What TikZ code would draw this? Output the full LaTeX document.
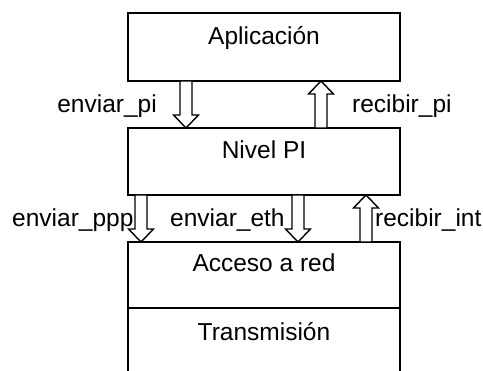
\documentclass[tikz,border=0pt]{standalone}
\usepackage{fontspec}
\setmainfont{Liberation Sans}
\usetikzlibrary{calc}
\tikzset{
  layer/.style={draw, line width=1.4pt, minimum width=272pt, inner sep=0pt, outer sep=0pt},
  side/.style={line width=1.4pt},
  txt/.style={anchor=base, inner sep=0pt, font=\fontsize{24.5}{28}\selectfont},
  blk/.style={draw, line width=1.4pt, fill=white, line join=miter},
}
% hollow arrow pointing down: x, from, to
\newcommand\hdown[3]{%
  \draw[blk] let \p1=(#2), \p2=(#3) in
    (#1pt-6pt,\y1) -- (#1pt+6pt,\y1) -- (#1pt+6pt,\y2+13pt) -- (#1pt+12.5pt,\y2+13pt)
    -- (#1pt,\y2) -- (#1pt-12.5pt,\y2+13pt) -- (#1pt-6pt,\y2+13pt) -- cycle;}
% hollow arrow pointing up: x, from, to
\newcommand\hup[3]{%
  \draw[blk] let \p1=(#2), \p2=(#3) in
    (#1pt-6pt,\y1) -- (#1pt+6pt,\y1) -- (#1pt+6pt,\y2-13pt) -- (#1pt+12.5pt,\y2-13pt)
    -- (#1pt,\y2) -- (#1pt-12.5pt,\y2-13pt) -- (#1pt-6pt,\y2-13pt) -- cycle;}
\begin{document}
\begin{tikzpicture}[x=1pt, y=-1pt]
\useasboundingbox (0,0) rectangle (483,371);
% boxes
\node[layer, minimum height=68pt] (app) at (264,47) {};
\node[layer, minimum height=67pt] (ip)  at (264,161.5) {};
\node[layer, minimum height=66pt] (acc) at (264,275) {};
\coordinate (tl) at (128,380);
\coordinate (tr) at (400,380);
\draw[side] (tl) -- (acc.south west) -- (acc.south east) -- (tr);
% box texts
\node[txt] (tapp) at (264,45) {Aplicación};
\node[txt] (tip) at (264,159) {Nivel PI};
\node[txt] (tacc) at (264,272) {Acceso a red};
\node[txt] (ttr) at (264,341) {Transmisión};
% arrows
\hdown{186}{app.south}{ip.north}
\hup{321}{ip.north}{app.south}
\hdown{141}{ip.south}{acc.north}
\hdown{298}{ip.south}{acc.north}
\hup{366}{acc.north}{ip.south}
% labels
\node[txt, anchor=base east] (l1) at (157,113) {enviar\_pi};
\node[txt, anchor=base west] (l2) at (352,113) {recibir\_pi};
\node[txt, anchor=base west] (l3) at (12,227) {enviar\_ppp};
\node[txt, anchor=base west] (l4) at (170,227) {enviar\_eth};
\node[txt, anchor=base west] (l5) at (375,227) {recibir\_int};
\end{tikzpicture}
\end{document}
